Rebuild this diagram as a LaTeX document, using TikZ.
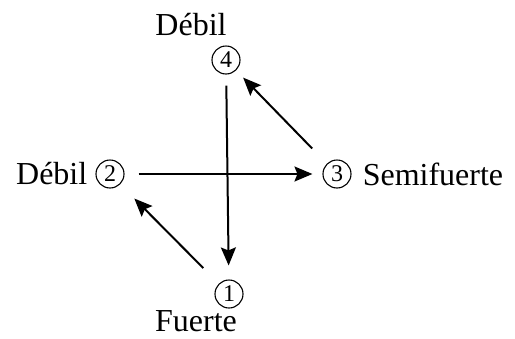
\documentclass[tikz,border=0pt]{standalone}
\usepackage{fontspec}
\setmainfont{Liberation Serif}
\usetikzlibrary{arrows.meta}
\tikzset{
    num/.style={circle, draw, line width=1.1pt, inner sep=0pt, minimum size=28pt, font=\fontsize{24}{27}\selectfont},
    lbl/.style={draw=none, inner sep=0pt, font=\fontsize{32}{38}\selectfont},
    arr/.style={line width=2pt, -{Stealth[length=18pt,width=15pt,inset=3pt]}}
}
\begin{document}
\begin{tikzpicture}[x=1pt,y=-1pt]
    \useasboundingbox (0,0) rectangle (515,338);
    % the four states
    \node[num, label={[lbl, xshift=-35pt, label distance=9pt]above:Débil}] (n4) at (226,60) {4};
    \node[num, label={[lbl, label distance=8pt]left:Débil}] (n2) at (110,174) {2};
    \node[num, label={[lbl, label distance=11pt]right:Semifuerte}] (n3) at (337,174) {3};
    \node[num, label={[lbl, xshift=-33pt, label distance=2pt]below:Fuerte}] (n1) at (229,294) {1};
    % transitions
    \draw[arr, shorten <=11pt, shorten >=14pt] (n4) -- (n1);
    \draw[arr, shorten <=14pt, shorten >=10pt] (n2) -- (n3);
    \draw[arr, shorten <=21pt, shorten >=10pt] (n3) -- (n4);
    \draw[arr, shorten <=22pt, shorten >=20pt] (n1) -- (n2);
\end{tikzpicture}
\end{document}
